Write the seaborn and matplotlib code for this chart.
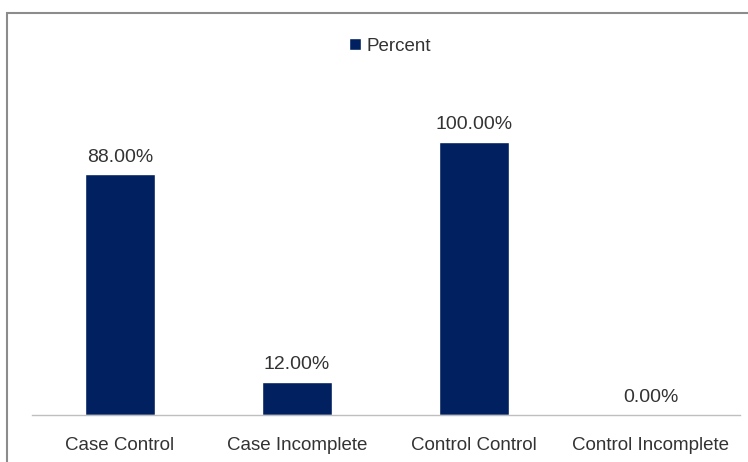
import matplotlib
matplotlib.use("Agg")
import matplotlib.pyplot as plt
import matplotlib.patches as mpatches
from matplotlib import font_manager
import seaborn as sns
import pandas as pd

categories = ["Case Control", "Case Incomplete", "Control Control", "Control Incomplete"]
percent = [88.0, 12.0, 100.0, 0.0]
series_name = "Percent"

sns.set_theme(style="white")
names = {f.name for f in font_manager.fontManager.ttflist}
family = "Liberation Sans Narrow" if "Liberation Sans Narrow" in names else "Liberation Sans"
plt.rcParams["font.family"] = [family, "DejaVu Sans"]

text_color = "#333333"
bar_color = "#002060"

df = pd.DataFrame({"category": categories, "value": percent})

fig = plt.figure(figsize=(7.48, 4.62), dpi=100)
ax = fig.add_axes([31.5 / 748, 1 - 415 / 462, (739.5 - 31.5) / 748, (415 - 87) / 462])

sns.barplot(data=df, x="category", y="value", color=bar_color, width=0.4,
            saturation=1, ax=ax, label=series_name)

ax.set_ylim(0, 120)
ax.set_xlim(-0.5, len(categories) - 0.5)
ax.set_xlabel("")
ax.set_ylabel("")
ax.set_yticks([])
for side in ["top", "right", "left"]:
    ax.spines[side].set_visible(False)
ax.spines["bottom"].set_color("#bfbfbf")
ax.spines["bottom"].set_linewidth(1.0)
ax.tick_params(axis="x", length=0, pad=16, labelsize=13.5, labelcolor=text_color)

for i, v in enumerate(percent):
    ax.annotate(f"{v:.2f}%", (i, v), xytext=(0, 12.5), textcoords="offset points",
                ha="center", va="center", fontsize=14, color=text_color)

leg = ax.legend(loc="center", bbox_to_anchor=(390 / 748, 1 - 46.5 / 462),
                bbox_transform=fig.transFigure, frameon=False, fontsize=13.5,
                handlelength=0.6, handleheight=0.6, handletextpad=0.3)
for t in leg.get_texts():
    t.set_color(text_color)

# chart area border
fig.patches.append(mpatches.Rectangle((7 / 748, -0.2), 1.5, 1.2 - 13 / 462,
                                      transform=fig.transFigure, fill=False,
                                      edgecolor="#8c8c8c", linewidth=1.5))

fig.savefig("out.png", dpi=100)
